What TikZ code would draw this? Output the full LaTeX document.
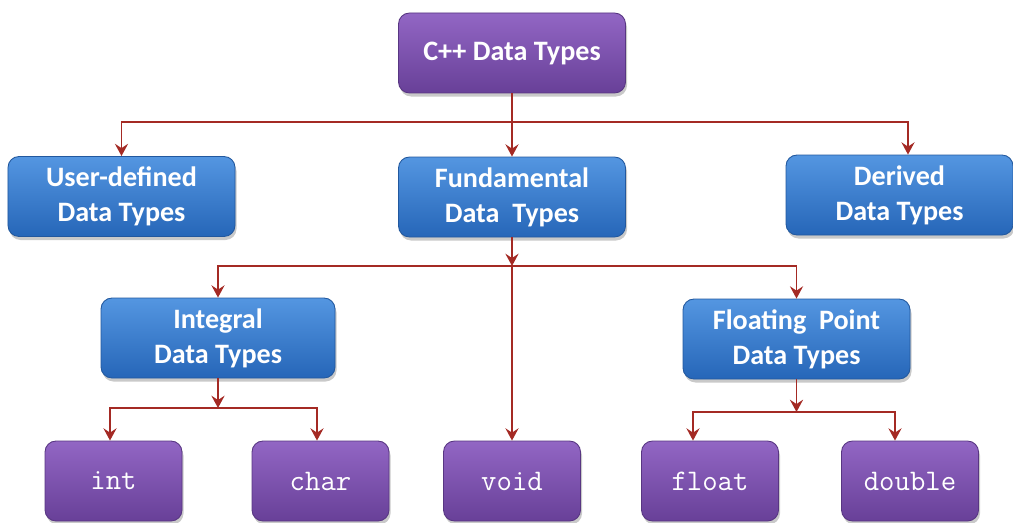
\documentclass[tikz,border=0pt]{standalone}
\usepackage{fontspec}
\setmainfont{Carlito}
\usepackage{tikz}
\usetikzlibrary{arrows.meta,positioning,shadows}

\definecolor{BlueTop}{RGB}{84,150,225}
\definecolor{BlueBot}{RGB}{38,102,184}
\definecolor{BlueEdge}{RGB}{34,88,158}
\definecolor{PurpleTop}{RGB}{146,102,196}
\definecolor{PurpleBot}{RGB}{104,64,152}
\definecolor{PurpleEdge}{RGB}{88,54,130}
\definecolor{LinkRed}{RGB}{164,42,36}

\tikzset{
  typebox/.style={rounded corners=0.22cm, line width=0.5pt, align=center,
    text=white, minimum height=1.6cm, inner sep=2pt,
    drop shadow={shadow xshift=0.03cm, shadow yshift=-0.07cm, opacity=0.3, fill=black!70}},
  bluebox/.style={typebox, draw=BlueEdge, top color=BlueTop, bottom color=BlueBot,
    minimum width=4.54cm, font=\fontsize{16}{20}\selectfont\bfseries},
  purplebox/.style={typebox, draw=PurpleEdge, top color=PurpleTop, bottom color=PurpleBot,
    minimum width=4.54cm, font=\fontsize{16}{20}\selectfont\bfseries},
  codebox/.style={purplebox, minimum width=2.74cm, font=\fontsize{17}{20}\selectfont\ttfamily},
  link/.style={draw=LinkRed, line width=1.1pt},
  arr/.style={link, -{Stealth[length=7pt,width=7.5pt,inset=2.5pt]}}
}

\begin{document}
\begin{tikzpicture}
  \useasboundingbox (0,0) rectangle (20.26,10.44);

  % root
  \node[purplebox] (cpp) at (10.24,9.38) {C++ Data Types};

  % second level
  \node[bluebox] (user) at (2.43,6.51) {User-defined\\Data Types};
  \node[bluebox] (fund) at (10.24,6.50) {Fundamental\\Data~~Types};
  \node[bluebox] (derived) at (17.99,6.54) {Derived\\Data Types};

  % third level
  \node[bluebox, minimum width=4.68cm] (integral) at (4.36,3.68) {Integral\\Data Types};
  \node[bluebox] (floating) at (15.93,3.66) {Floating~~Point\\Data Types};

  % leaves
  \node[codebox] (int) at (2.27,0.82) {int};
  \node[codebox] (char) at (6.41,0.82) {char};
  \node[codebox] (void) at (10.24,0.82) {void};
  \node[codebox] (float) at (14.20,0.82) {float};
  \node[codebox] (double) at (18.20,0.82) {double};

  % fork points
  \coordinate (topfork) at (10.24,8.0);
  \coordinate (fundfork) at (10.24,5.12);
  \coordinate (intfork) at (4.36,2.28);
  \coordinate (floatfork) at (15.93,2.2);

  \draw[link] (cpp.south) -- (topfork);
  \draw[arr] (topfork) -| (user.north);
  \draw[arr] (topfork) -- (fund.north);
  \draw[arr] (topfork) -| ([xshift=0.17cm]derived.north);

  \draw[arr] (fund.south) -- (fundfork);
  \draw[arr] (fundfork) -| (integral.north);
  \draw[arr] (fundfork) -- (void.north);
  \draw[arr] (fundfork) -| (floating.north);

  \draw[arr] (integral.south) -- (intfork);
  \draw[arr] (intfork) -| ([xshift=-0.07cm]int.north);
  \draw[arr] (intfork) -| ([xshift=-0.07cm]char.north);

  \draw[arr] (floating.south) -- (floatfork);
  \draw[arr] (floatfork) -| ([xshift=-0.34cm]float.north);
  \draw[arr] (floatfork) -| ([xshift=-0.3cm]double.north);
\end{tikzpicture}
\end{document}
